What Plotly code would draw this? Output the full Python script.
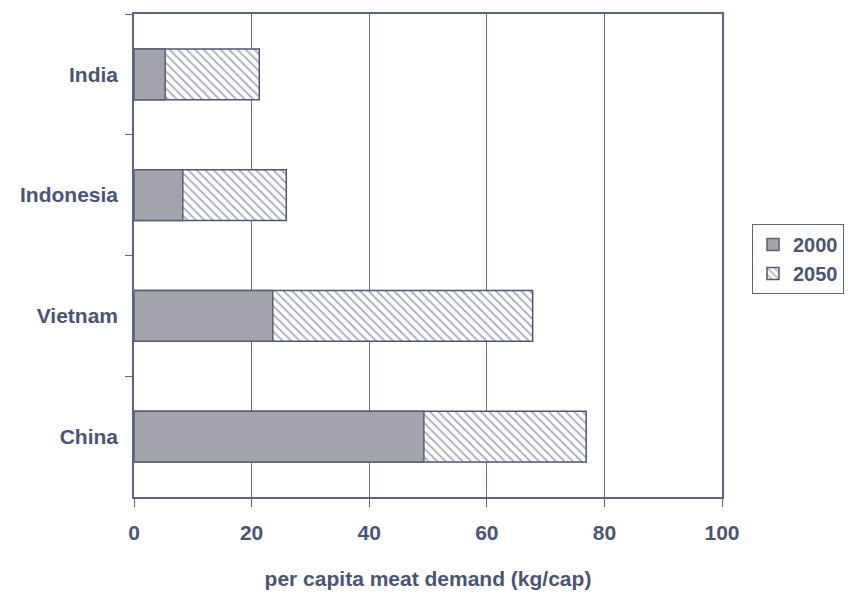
import plotly.graph_objects as go

# Per capita meat demand (kg/cap) by country
countries = ["India", "Indonesia", "Vietnam", "China"]
demand_2000 = [5.3, 8.3, 23.6, 49.3]
demand_2050 = [21.3, 25.9, 67.8, 76.9]
x_ticks = [0, 20, 40, 60, 80, 100]

ink = "#4b5573"
line_col = "#5d6482"
font_family = "Liberation Sans, Arial, sans-serif"

fig = go.Figure()

# 2050 drawn first as the full-length hatched bar
fig.add_trace(go.Bar(
    y=countries, x=demand_2050, orientation="h", name="2050",
    marker=dict(
        color="white",
        line=dict(color="#4f5670", width=1.5),
        pattern=dict(shape="\\", fgcolor="#4f5670", bgcolor="white",
                     size=6, solidity=0.3),
    ),
))

# 2000 overlaid as the solid gray segment
fig.add_trace(go.Bar(
    y=countries, x=demand_2000, orientation="h", name="2000",
    marker=dict(color="#a2a3ac", line=dict(color="#5a5f74", width=1.5)),
))

fig.update_layout(
    width=848, height=599,
    barmode="overlay",
    bargap=0.58,
    plot_bgcolor="white",
    paper_bgcolor="white",
    margin=dict(l=134, r=126, t=14, b=102, autoexpand=False),
    font=dict(family=font_family, color=ink, size=21),
    showlegend=True,
    legend=dict(
        xref="container", yref="container",
        x=752 / 848, y=1 - 224 / 599, xanchor="left", yanchor="top",
        bordercolor=line_col, borderwidth=1,
        font=dict(size=20, family=font_family, color=ink, weight="bold"),
        traceorder="reversed",
        itemwidth=30,
        tracegroupgap=2,
    ),
)

fig.update_xaxes(
    range=[0, 100],
    tickvals=x_ticks,
    ticktext=[str(v) for v in x_ticks],
    showgrid=True, gridcolor="#6a7090", gridwidth=1,
    showline=True, linecolor=line_col, linewidth=1.5, mirror=True,
    ticks="outside", ticklen=8, tickcolor=line_col,
    tickfont=dict(size=21, family=font_family, color=ink, weight="bold"),
    ticklabelstandoff=8,
    title=dict(text="per capita meat demand (kg/cap)", standoff=28,
               font=dict(size=21, family=font_family, color=ink, weight="bold")),
    zeroline=False,
)

fig.update_yaxes(
    categoryorder="array", categoryarray=countries, autorange="reversed",
    showline=True, linecolor=line_col, linewidth=1.5, mirror=True,
    ticks="outside", ticklen=7, tickcolor=line_col, tickson="boundaries",
    showgrid=False,
    tickfont=dict(size=21, family=font_family, color=ink, weight="bold"),
    ticklabelstandoff=10,
)

fig.write_html("out.html")
